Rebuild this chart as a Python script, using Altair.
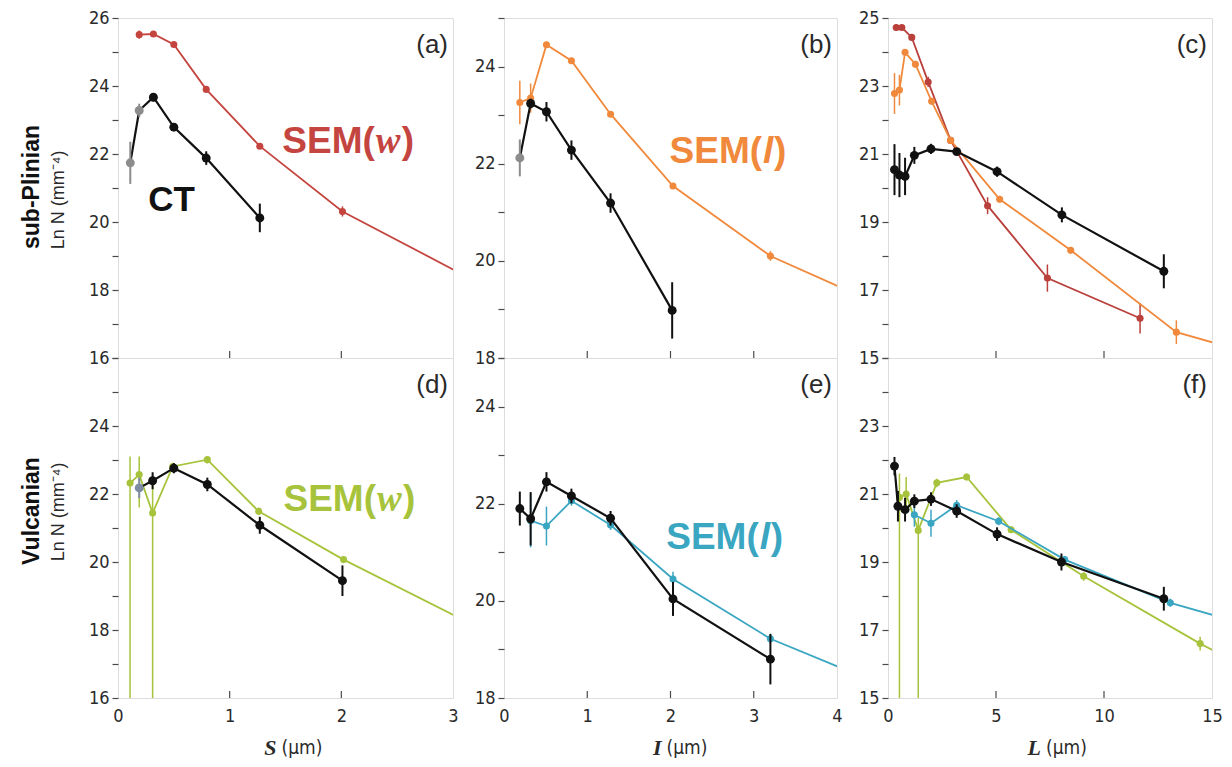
import altair as alt
import pandas as pd

RED = "#c4453f"
ORANGE = "#f0893c"
GREEN = "#a7c33b"
CYAN = "#3aa6c2"
BLACK = "#111111"
GRAY = "#8c8c8c"
GRAYBLUE = "#7d8ca3"
FRAME = "#4a4a4a"
TXT = "#2a2a2a"
FONT = "Liberation Sans Narrow, Arial Narrow, DejaVu Sans Condensed, Liberation Sans, sans-serif"
SANS = "Liberation Sans, Arial, sans-serif"
SERIF = "Liberation Serif, Times New Roman, serif"

# ---------------- data ----------------
# (a) sub-Plinian, S
A_SEM_X = [0.19, 0.317, 0.5, 0.79, 1.27, 2.01, 3.16]
A_SEM_Y = [25.51, 25.53, 25.22, 23.9, 22.23, 20.31, 18.33]
A_SEM_E = [0.12, 0.08, 0.08, 0.08, 0.08, 0.15, 0.1]
A_CT_X = [0.11, 0.19, 0.317, 0.5, 0.79, 1.27]
A_CT_Y = [21.74, 23.28, 23.67, 22.79, 21.88, 20.12]
A_CT_E = [0.62, 0.2, 0.12, 0.12, 0.2, 0.42]
A_CT_C = [GRAY, GRAY, BLACK, BLACK, BLACK, BLACK]

# (b) sub-Plinian, I
B_SEM_X = [0.19, 0.32, 0.51, 0.81, 1.28, 2.03, 3.2, 5.0]
B_SEM_Y = [23.26, 23.35, 24.45, 24.12, 23.02, 21.54, 20.1, 18.72]
B_SEM_E = [0.45, 0.3, 0.06, 0.06, 0.06, 0.06, 0.1, 0.1]
B_CT_X = [0.19, 0.32, 0.51, 0.81, 1.28, 2.02]
B_CT_Y = [22.12, 23.24, 23.07, 22.28, 21.19, 18.98]
B_CT_E = [0.38, 0.1, 0.2, 0.2, 0.2, 0.58]
B_CT_C = [GRAY, BLACK, BLACK, BLACK, BLACK, BLACK]

# (c) sub-Plinian, L
C_W_X = [0.38, 0.64, 1.1, 1.86, 2.9, 4.61, 7.38, 11.67]
C_W_Y = [24.72, 24.72, 24.43, 23.12, 21.4, 19.48, 17.35, 16.17]
C_W_E = [0.1, 0.08, 0.08, 0.15, 0.1, 0.25, 0.4, 0.45]
C_L_X = [0.3, 0.53, 0.79, 1.27, 2.02, 2.9, 5.17, 8.46, 13.35, 20.0]
C_L_Y = [22.78, 22.88, 23.99, 23.64, 22.55, 21.4, 19.67, 18.17, 15.76, 14.56]
C_L_E = [0.6, 0.45, 0.1, 0.1, 0.1, 0.1, 0.1, 0.1, 0.35, 0.1]
C_CT_X = [0.3, 0.53, 0.79, 1.22, 1.99, 3.18, 5.05, 8.05, 12.77]
C_CT_Y = [20.54, 20.38, 20.34, 20.96, 21.15, 21.07, 20.48, 19.21, 17.55]
C_CT_E = [0.75, 0.65, 0.55, 0.25, 0.15, 0.1, 0.15, 0.22, 0.5]

# (d) Vulcanian, S
D_W_X = [0.108, 0.19, 0.31, 0.49, 0.8, 1.26, 2.02, 3.16]
D_W_Y = [22.32, 22.57, 21.44, 22.81, 23.01, 21.49, 20.07, 18.18]
D_W_LO = [10.0, 21.6, 10.0, 22.7, 22.9, 21.38, 19.97, 18.1]
D_W_HI = [23.1, 23.1, 22.3, 22.92, 23.1, 21.6, 20.17, 18.26]
D_CT_X = [0.19, 0.31, 0.5, 0.8, 1.27, 2.01]
D_CT_Y = [22.18, 22.39, 22.76, 22.28, 21.08, 19.45]
D_CT_E = [0.3, 0.25, 0.15, 0.2, 0.25, 0.45]
D_CT_C = [GRAYBLUE, BLACK, BLACK, BLACK, BLACK, BLACK]

# (e) Vulcanian, I
E_L_X = [0.32, 0.51, 0.81, 1.28, 2.03, 3.2, 5.0]
E_L_Y = [21.65, 21.54, 22.06, 21.56, 20.45, 19.22, 17.95]
E_L_E = [0.55, 0.4, 0.1, 0.1, 0.15, 0.1, 0.1]
E_CT_X = [0.19, 0.32, 0.51, 0.81, 1.28, 2.03, 3.2]
E_CT_Y = [21.9, 21.69, 22.45, 22.16, 21.7, 20.04, 18.8]
E_CT_E = [0.35, 0.55, 0.2, 0.15, 0.15, 0.35, 0.52]

# (f) Vulcanian, L
F_W_X = [0.53, 0.84, 1.4, 2.26, 3.64, 5.7, 9.06, 14.45, 18.0]
F_W_Y = [20.9, 21.0, 19.93, 21.33, 21.5, 19.95, 18.58, 16.6, 15.43]
F_W_LO = [10.0, 20.6, 10.0, 21.2, 21.4, 19.85, 18.45, 16.4, 15.3]
F_W_HI = [21.6, 21.5, 20.3, 21.45, 21.6, 20.05, 18.7, 16.8, 15.5]
F_L_X = [1.22, 1.99, 3.18, 5.12, 8.18, 13.07, 18.0]
F_L_Y = [20.39, 20.14, 20.67, 20.2, 19.07, 17.8, 16.9]
F_L_E = [0.35, 0.4, 0.15, 0.12, 0.1, 0.12, 0.1]
F_CT_X = [0.3, 0.46, 0.79, 1.22, 1.99, 3.18, 5.05, 8.03, 12.77]
F_CT_Y = [21.82, 20.64, 20.54, 20.79, 20.85, 20.5, 19.82, 19.0, 17.92]
F_CT_E = [0.27, 0.45, 0.35, 0.2, 0.2, 0.2, 0.2, 0.25, 0.35]

# axes
S_TICKS = [0, 1, 2, 3]
I_TICKS = [0, 1, 2, 3, 4]
L_TICKS = [0, 5, 10, 15]


def sdf(x, y, err=None, lo=None, hi=None, colors=None, color=BLACK):
    if lo is None:
        lo = [a - b for a, b in zip(y, err)]
        hi = [a + b for a, b in zip(y, err)]
    pc = colors if colors else [color] * len(x)
    return pd.DataFrame({"x": x, "y": y, "lo": lo, "hi": hi, "pc": pc})


def panel(series, xdom, xticks, ydom, ylabels, W, H, letter, bottom,
          notes=(), xtitle=None, rowlabel=None):
    xaxis = None
    if bottom:
        xaxis = alt.Axis(values=xticks, ticks=False, domain=False, grid=False,
                         labelFontSize=18, labelFont=FONT, labelColor=TXT,
                         labelPadding=9, labelFlush=False, labelOverlap=False,
                         title=None, format="d")
    yvals = list(range(ydom[0], ydom[1] + 1))
    lab = "[" + ",".join(str(v) for v in ylabels) + "]"
    yaxis = alt.Axis(values=yvals, labelExpr=f"indexof({lab}, datum.value) >= 0 ? datum.label : ''",
                     tickSize=6, tickColor=FRAME, tickWidth=1.2, domain=False, grid=False,
                     labelFontSize=18, labelFont=FONT, labelColor=TXT, labelPadding=3,
                     labelFlush=False, labelOverlap=False, title=None, format="d")
    xs = alt.Scale(domain=list(xdom), nice=False, zero=False)
    ys = alt.Scale(domain=list(ydom), nice=False, zero=False)

    def X(f):
        return alt.X(f + ":Q", scale=xs, axis=xaxis)

    def Y(f):
        return alt.Y(f + ":Q", scale=ys, axis=yaxis)

    layers = []
    inner = [t for t in xticks if xdom[0] < t < xdom[1]]
    layers.append(alt.Chart(pd.DataFrame({"t": inner})).mark_rule(color=FRAME, strokeWidth=1.2)
                  .encode(x=X("t"), y=alt.value(H), y2=alt.value(H - 7)))
    for df, color, lw, ms, rw in series:
        base = alt.Chart(df)
        layers.append(base.mark_line(color=color, strokeWidth=lw, clip=True)
                      .encode(x=X("x"), y=Y("y")))
        layers.append(base.mark_rule(strokeWidth=rw, clip=True)
                      .encode(x=X("x"), y=Y("lo"), y2="hi",
                              color=alt.Color("pc:N", scale=None)))
        layers.append(base.mark_circle(size=ms, opacity=1, clip=True)
                      .encode(x=X("x"), y=Y("y"), color=alt.Color("pc:N", scale=None)))
    for (nx, ny, pieces) in notes:
        for txt, align, dx, font, style, size, color in pieces:
            layers.append(alt.Chart(pd.DataFrame({"x": [nx], "y": [ny], "t": [txt]}))
                          .mark_text(align=align, baseline="alphabetic", dx=dx, font=font,
                                     fontStyle=style, fontWeight="bold", fontSize=size, color=color)
                          .encode(x=X("x"), y=Y("y"), text="t:N"))
    layers.append(alt.Chart(pd.DataFrame({"t": [letter]}))
                  .mark_text(align="right", baseline="top", fontSize=26, font=SANS, color=TXT)
                  .encode(text="t:N", x=alt.value(W - 5), y=alt.value(14)))
    if xtitle is not None:
        layers.append(alt.Chart(pd.DataFrame({"t": [xtitle]}))
                      .mark_text(align="right", baseline="middle", fontSize=22, font=SERIF,
                                 fontStyle="italic", fontWeight="bold", color=TXT)
                      .encode(text="t:N", x=alt.value(W / 2 - 9), y=alt.value(H + 50)))
        layers.append(alt.Chart(pd.DataFrame({"t": ["(μm)"]}))
                      .mark_text(align="left", baseline="middle", fontSize=19, font=FONT, color=TXT)
                      .encode(text="t:N", x=alt.value(W / 2 - 4), y=alt.value(H + 50)))
    if rowlabel is not None:
        layers.append(alt.Chart(pd.DataFrame({"t": [rowlabel[0]]}))
                      .mark_text(angle=270, align="center", baseline="middle", fontSize=23,
                                 font=SANS, fontWeight="bold", color=BLACK)
                      .encode(text="t:N", x=alt.value(-86), y=alt.value(rowlabel[1])))
        layers.append(alt.Chart(pd.DataFrame({"t": ["Ln N (mm⁻⁴)"]}))
                      .mark_text(angle=270, align="center", baseline="middle", fontSize=18,
                                 font=SANS, color=TXT)
                      .encode(text="t:N", x=alt.value(-59), y=alt.value(rowlabel[2])))
    return alt.layer(*layers).properties(width=W, height=H)


def sem_label(x, y, sym, color, symfont, symstyle, symw, size=37):
    return (x, y, [
        ("SEM(", "right", 0, SANS, "normal", size, color),
        (sym, "left", 1, symfont, symstyle, size, color),
        (")", "left", 1 + symw, SANS, "normal", size, color),
    ])


H = 340
WA, WB, WC = 335, 333, 324

pa = panel([
    (sdf(A_SEM_X, A_SEM_Y, A_SEM_E, color=RED), RED, 1.8, 50, 1.5),
    (sdf(A_CT_X, A_CT_Y, A_CT_E, colors=A_CT_C), BLACK, 2.2, 80, 2),
], (0, 3), S_TICKS, (16, 26), [16, 18, 20, 22, 24, 26], WA, H, "(a)", False,
    notes=[sem_label(2.30, 22.02, "w", RED, SERIF, "italic", 26),
           (0.27, 20.31, [("CT", "left", 0, SANS, "normal", 35, BLACK)])],
    rowlabel=("sub-Plinian", 169, 182))

pd_ = panel([
    (sdf(D_W_X, D_W_Y, lo=D_W_LO, hi=D_W_HI, color=GREEN), GREEN, 1.8, 50, 1.5),
    (sdf(D_CT_X, D_CT_Y, D_CT_E, colors=D_CT_C), BLACK, 2.2, 80, 2),
], (0, 3), S_TICKS, (16, 26), [16, 18, 20, 22, 24], WA, H, "(d)", True,
    notes=[sem_label(2.31, 21.49, "w", GREEN, SERIF, "italic", 26)],
    xtitle="S", rowlabel=("Vulcanian", 153, 154))

pb = panel([
    (sdf(B_SEM_X, B_SEM_Y, B_SEM_E, color=ORANGE), ORANGE, 1.8, 50, 1.5),
    (sdf(B_CT_X, B_CT_Y, B_CT_E, colors=B_CT_C), BLACK, 2.2, 80, 2),
], (0, 4), I_TICKS, (18, 25), [18, 20, 22, 24], WB, H, "(b)", False,
    notes=[sem_label(3.10, 22.02, "l", ORANGE, SANS, "italic", 11)])

pe = panel([
    (sdf(E_L_X, E_L_Y, E_L_E, color=CYAN), CYAN, 1.8, 50, 1.5),
    (sdf(E_CT_X, E_CT_Y, E_CT_E), BLACK, 2.2, 80, 2),
], (0, 4), I_TICKS, (18, 25), [18, 20, 22, 24], WB, H, "(e)", True,
    notes=[sem_label(3.06, 21.06, "l", CYAN, SANS, "italic", 11)],
    xtitle="I")

pc = panel([
    (sdf(C_W_X, C_W_Y, C_W_E, color="#b9403b"), "#b9403b", 1.8, 50, 1.5),
    (sdf(C_L_X, C_L_Y, C_L_E, color=ORANGE), ORANGE, 1.8, 50, 1.5),
    (sdf(C_CT_X, C_CT_Y, C_CT_E), BLACK, 2.2, 80, 2),
], (0, 15), L_TICKS, (15, 25), [15, 17, 19, 21, 23, 25], WC, H, "(c)", False)

pf = panel([
    (sdf(F_W_X, F_W_Y, lo=F_W_LO, hi=F_W_HI, color=GREEN), GREEN, 1.8, 50, 1.5),
    (sdf(F_L_X, F_L_Y, F_L_E, color=CYAN), CYAN, 1.8, 50, 1.5),
    (sdf(F_CT_X, F_CT_Y, F_CT_E), BLACK, 2.2, 80, 2),
], (0, 15), L_TICKS, (15, 25), [15, 17, 19, 21, 23], WC, H, "(f)", True,
    xtitle="L")

col1 = alt.vconcat(pa, pd_, spacing=0, bounds="flush")
col2 = alt.vconcat(pb, pe, spacing=0, bounds="flush")
col3 = alt.vconcat(pc, pf, spacing=0, bounds="flush")

chart = alt.hconcat(col1, col2, col3, spacing=14).properties(
    padding={"left": 12, "top": 0, "right": 0, "bottom": 0}
).configure_view(stroke=FRAME, strokeWidth=1.5).configure(background="white")

chart.save("out.html", embed_options={"renderer": "svg", "actions": False})
